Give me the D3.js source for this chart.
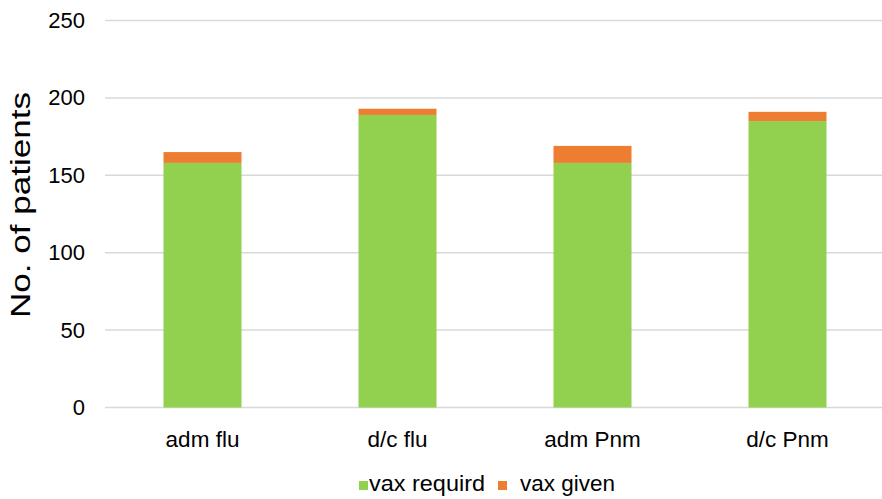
<!DOCTYPE html>
<meta charset="utf-8">
<script src="https://d3js.org/d3.v7.min.js"></script>
<body style="margin:0">
    <div id="viz"></div>
</body>
<style>
    text { font-family: "Liberation Sans", Arial, sans-serif; fill: #000; }
</style>
<script>
    // data
    let categories = ["adm flu", "d/c flu", "adm Pnm", "d/c Pnm"];
    let vaxRequird = [158, 189, 158, 185];
    let vaxGiven = [7, 4, 11, 6];
    let seriesNames = ["vax requird", "vax given"];
    let colors = ["#92d050", "#ed7d31"];
    let yTicks = [0, 50, 100, 150, 200, 250];

    let width = 882, height = 499;
    let plot = {left: 105, right: 885, top: 20.5, bottom: 407.5};

    let svg = d3.select("#viz").append("svg")
        .attr("width", width)
        .attr("height", height);

    let x = d3.scaleBand()
        .domain(categories)
        .range([plot.left, plot.right])
        .paddingInner(0.6)
        .paddingOuter(0.3);

    let y = d3.scaleLinear()
        .domain([0, 250])
        .range([plot.bottom, plot.top]);

    // gridlines
    svg.append("g")
        .selectAll("line")
        .data(yTicks)
        .enter()
        .append("line")
            .attr("x1", plot.left)
            .attr("x2", width)
            .attr("y1", d => y(d))
            .attr("y2", d => y(d))
            .style("stroke", "#d9d9d9")
            .style("stroke-width", 1.5);

    // y axis labels
    let yAxis = svg.append("g")
        .attr("transform", `translate(${plot.left}, 0)`)
        .call(d3.axisLeft(y).tickValues(yTicks).tickSize(0).tickPadding(20));
    yAxis.select(".domain").remove();
    yAxis.selectAll(".tick text")
        .attr("font-size", 22)
        .style("font-family", "Liberation Sans, Arial, sans-serif");

    // stacked bars
    let stacked = d3.stack().keys([0, 1])(categories.map((c, i) => [vaxRequird[i], vaxGiven[i]]));
    svg.append("g")
        .selectAll("g")
        .data(stacked)
        .enter()
        .append("g")
            .style("fill", (d, i) => colors[i])
        .selectAll("rect")
        .data(d => d)
        .enter()
        .append("rect")
            .attr("x", (d, i) => x(categories[i]))
            .attr("width", x.bandwidth())
            .attr("y", d => y(d[1]))
            .attr("height", d => y(d[0]) - y(d[1]));

    // x axis
    let xAxis = svg.append("g")
        .attr("transform", `translate(0, ${plot.bottom})`)
        .call(d3.axisBottom(x).tickSize(0).tickPadding(24));
    xAxis.select(".domain").remove();
    xAxis.selectAll(".tick text")
        .attr("font-size", 22.5)
        .style("font-family", "Liberation Sans, Arial, sans-serif");

    // y title
    svg.append("text")
        .attr("transform", "translate(30, 205) rotate(-90)")
        .attr("text-anchor", "middle")
        .attr("font-size", 27)
        .attr("textLength", 226)
        .attr("lengthAdjust", "spacingAndGlyphs")
        .text("No. of patients");

    // legend
    let legendX = [359, 498];
    let legendTextX = [369, 520];
    let legendTextW = [116, 95];
    let legend = svg.append("g");
    legend.selectAll("rect")
        .data(seriesNames)
        .enter()
        .append("rect")
            .attr("x", (d, i) => legendX[i])
            .attr("y", 481)
            .attr("width", 9)
            .attr("height", 9)
            .style("fill", (d, i) => colors[i]);
    legend.selectAll("text")
        .data(seriesNames)
        .enter()
        .append("text")
            .attr("x", (d, i) => legendTextX[i])
            .attr("y", 491)
            .attr("font-size", 22.5)
            .attr("textLength", (d, i) => legendTextW[i])
            .attr("lengthAdjust", "spacingAndGlyphs")
            .text(d => d);
</script>
